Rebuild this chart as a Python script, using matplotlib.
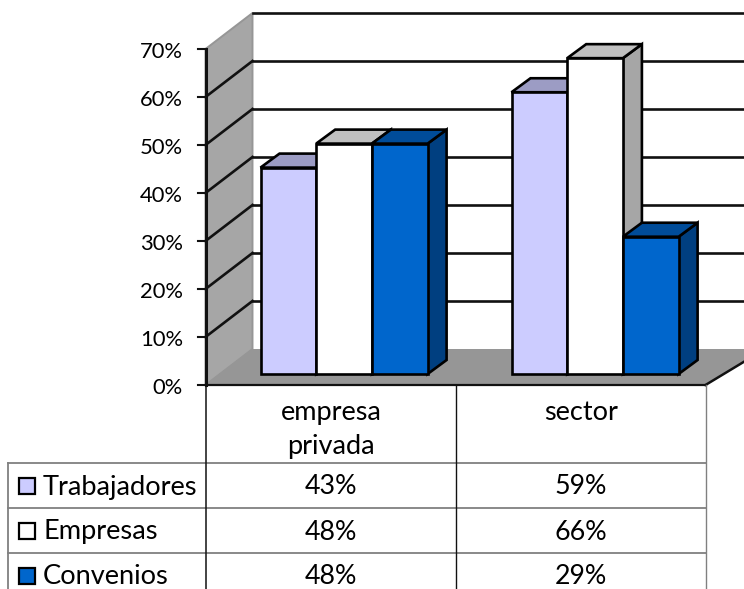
import matplotlib
matplotlib.use('Agg')
import matplotlib.pyplot as plt
from matplotlib.patches import Polygon, Rectangle

plt.rcParams['font.family'] = ['Lato', 'DejaVu Sans']

### Data
categories = ['empresa\nprivada', 'sector']
series_names = ['Trabajadores', 'Empresas', 'Convenios']
trabajadores = [43.0, 58.7]
empresas = [48.0, 65.8]
convenios = [48.0, 28.6]
y_ticks = [0, 10, 20, 30, 40, 50, 60, 70]

### Colours: front, top, side
cols = [('#ccccff', '#9c9cc4', '#9c9cc4'),
        ('#ffffff', '#c0c0c0', '#a6a6a6'),
        ('#0066cc', '#004c99', '#003f80')]

W, H = 744, 589
fig = plt.figure(figsize=(W / 100, H / 100), dpi=100)
ax = fig.add_axes([0, 0, 1, 1])
ax.set_xlim(0, W)
ax.set_ylim(H, 0)
ax.axis('off')

### Layout of the fake 3d box, in pixels
x0, y0 = 205.5, 385    # front corner of the floor
per_pct = 4.8
dx, dy = 47, -36       # depth of the box
bar_base = 374
bar_w = 55.7
bar_dx, bar_dy = 19, -14
group_x = [260.5, 511.5]
LW = 1.9
GRID = '#111111'


def val_y(v):
    return y0 - v * per_pct


### Left wall, floor
ax.add_patch(Polygon([(x0, val_y(70)), (x0 + dx, val_y(70) + dy), (x0 + dx, y0 + dy), (x0, y0)],
                     fc='#a6a6a6', ec='#969696', lw=1.4, zorder=1))
ax.add_patch(Polygon([(x0, y0), (x0 + dx, y0 + dy), (W + 10, y0 + dy), (W + 10, y0 - 29), (x0 + 500, y0)],
                     fc='#969696', ec='none', zorder=1))
ax.plot([x0, x0 + 500], [y0, y0], color='#111111', lw=1.6, zorder=2)
ax.plot([x0 + 500, W + 10], [y0, y0 - 29 * (W + 10 - x0 - 500) / 48], color='#111111', lw=1.8, zorder=2)

### Gridlines on the wall and back
for t in y_ticks:
    yy = val_y(t)
    ax.plot([x0 - 8, x0], [yy, yy], color=GRID, lw=1.5, zorder=3)
    ax.text(183, yy + 2.8, '%d%%' % t, ha='right', va='center', fontsize=15.8, color='black')
    if t > 0:
        if t < 70:
            ax.plot([x0, x0 + dx], [yy, yy + dy], color=GRID, lw=LW, zorder=2)
        ax.plot([x0 + dx, W + 10], [yy + dy, yy + dy], color=GRID, lw=LW, zorder=2)
ax.plot([x0, x0], [val_y(70), y0], color=GRID, lw=2.2, zorder=3)

### Bars, drawn left to right so the later ones overlap
for g, gx in enumerate(group_x):
    for s, vals in enumerate([trabajadores, empresas, convenios]):
        left = gx + s * bar_w
        right = left + bar_w
        top = bar_base - vals[g] * per_pct
        front, upper, side = cols[s]
        ax.add_patch(Polygon([(right, top), (right + bar_dx, top + bar_dy),
                              (right + bar_dx, bar_base + bar_dy), (right, bar_base)],
                             fc=side, ec='black', lw=LW, zorder=4 + s))
        ax.add_patch(Polygon([(left, top), (left + bar_dx, top + bar_dy),
                              (right + bar_dx, top + bar_dy), (right, top)],
                             fc=upper, ec='black', lw=LW, zorder=4 + s))
        ax.add_patch(Rectangle((left, top), bar_w, bar_base - top,
                               fc=front, ec='black', lw=LW, zorder=4 + s))

### Data table
tx = [8, 206, 456, 706]
ty = [463, 508, 553]
for yy in ty:
    ax.plot([tx[0], tx[3]], [yy, yy], color='#808080', lw=1.3, zorder=6)
ax.plot([tx[0], tx[0]], [ty[0], H + 2], color='#808080', lw=1.3, zorder=6)
ax.plot([tx[1], tx[1]], [y0, H + 2], color='#111111', lw=1.1, zorder=7)
ax.plot([tx[2], tx[2]], [y0, H + 2], color='#111111', lw=1.0, zorder=7)
ax.plot([tx[3], tx[3]], [y0, H + 2], color='#808080', lw=1.0, zorder=6)

for c, cat in enumerate(categories):
    ax.text((tx[c + 1] + tx[c + 2]) / 2, 400, cat, ha='center', va='top',
            fontsize=19.5, linespacing=1.45)

for s, vals in enumerate([trabajadores, empresas, convenios]):
    yy = ty[s] + 24
    ax.add_patch(Rectangle((19, yy - 9.5), 16, 16, fc=cols[s][0], ec='black', lw=1.6, zorder=7))
    ax.text(43, yy, series_names[s], ha='left', va='center', fontsize=19.6)
    for c in range(2):
        ax.text((tx[c + 1] + tx[c + 2]) / 2 - 0.5, yy, '%d%%' % round(vals[c]),
                ha='center', va='center', fontsize=19.3)

fig.savefig('out.png', dpi=100)
